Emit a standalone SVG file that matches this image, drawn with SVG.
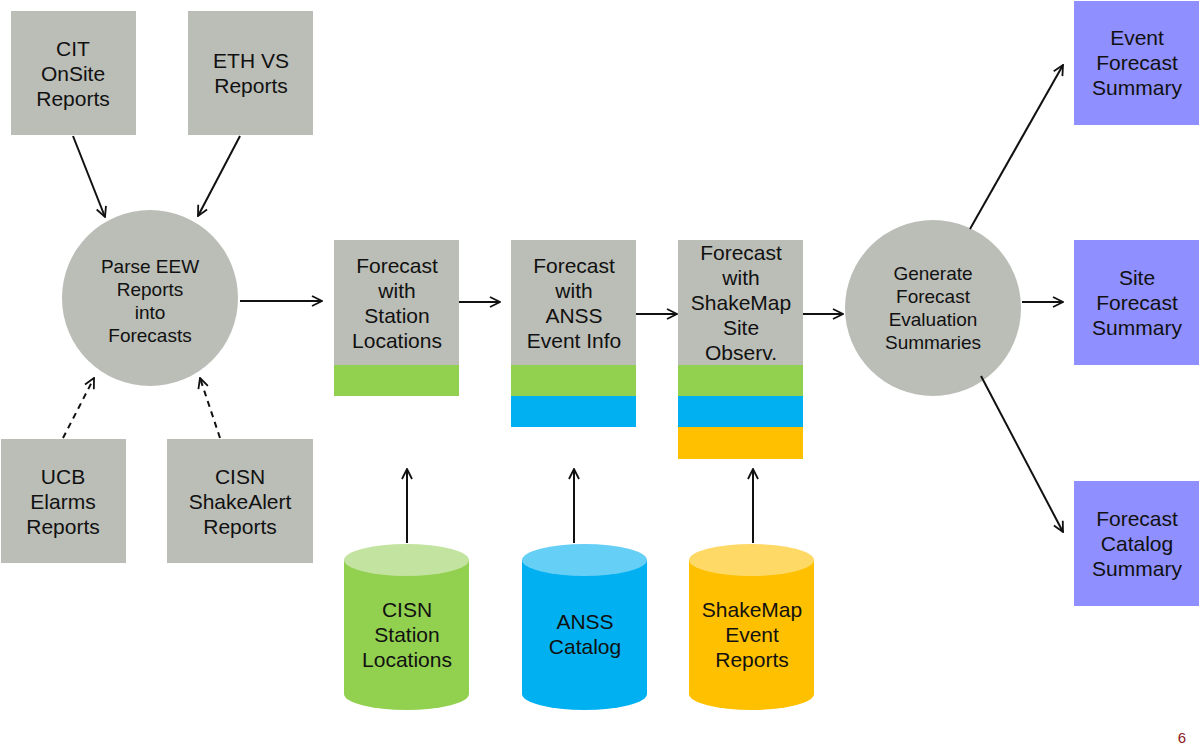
<svg xmlns="http://www.w3.org/2000/svg" width="1200" height="755" viewBox="0 0 1200 755">
<style>
text{font-family:"Liberation Sans",Arial,sans-serif;fill:#111;text-anchor:middle}
.t{font-size:21px}
.c{font-size:19px}
.g{fill:#BBBDB7}
.p{fill:#8F8FFF}
.gr{fill:#92D050}
.bl{fill:#00B0F0}
.or{fill:#FFC000}
.ln{stroke:#111;stroke-width:2;fill:none;marker-end:url(#a)}
.d{stroke-dasharray:6,5}
</style>
<defs>
<marker id="a" viewBox="0 0 12 12" refX="11" refY="6" markerWidth="12" markerHeight="12" markerUnits="userSpaceOnUse" orient="auto">
<path d="M1,1 L11,6 L1,11" fill="none" stroke="#111" stroke-width="1.8"/>
</marker>
</defs>
<rect width="1200" height="755" fill="#fff"/>
<g id="cit"><rect class="g" x="11" y="11" width="125" height="124"/><text class="t" x="73" y="56">CIT</text><text class="t" x="73" y="81">OnSite</text><text class="t" x="73" y="106">Reports</text></g>
<g id="eth"><rect class="g" x="188" y="11" width="125" height="124"/><text class="t" x="251" y="68">ETH VS</text><text class="t" x="251" y="93">Reports</text></g>
<g id="ucb"><rect class="g" x="1" y="439" width="125" height="124"/><text class="t" x="63" y="484">UCB</text><text class="t" x="63" y="509">Elarms</text><text class="t" x="63" y="534">Reports</text></g>
<g id="cisn"><rect class="g" x="167" y="439" width="146" height="124"/><text class="t" x="240" y="484">CISN</text><text class="t" x="240" y="509">ShakeAlert</text><text class="t" x="240" y="534">Reports</text></g>
<g id="parse"><circle class="g" cx="150" cy="298" r="88"/><text class="c" x="150" y="273">Parse EEW</text><text class="c" x="150" y="296">Reports</text><text class="c" x="150" y="319">into</text><text class="c" x="150" y="342">Forecasts</text></g>
<g id="fst"><rect class="g" x="334" y="240" width="125" height="125"/><rect class="gr" x="334" y="365" width="125" height="31"/><text class="t" x="397" y="273">Forecast</text><text class="t" x="397" y="298">with</text><text class="t" x="397" y="323">Station</text><text class="t" x="397" y="348">Locations</text></g>
<g id="fanss"><rect class="g" x="511" y="240" width="125" height="125"/><rect class="gr" x="511" y="365" width="125" height="31"/><rect class="bl" x="511" y="396" width="125" height="31"/><text class="t" x="574" y="273">Forecast</text><text class="t" x="574" y="298">with</text><text class="t" x="574" y="323">ANSS</text><text class="t" x="574" y="348">Event Info</text></g>
<g id="fsm"><rect class="g" x="678" y="240" width="125" height="125"/><rect class="gr" x="678" y="365" width="125" height="31"/><rect class="bl" x="678" y="396" width="125" height="31"/><rect class="or" x="678" y="427" width="125" height="32"/><text class="t" x="741" y="260">Forecast</text><text class="t" x="741" y="285">with</text><text class="t" x="741" y="310">ShakeMap</text><text class="t" x="741" y="335">Site</text><text class="t" x="741" y="360">Observ.</text></g>
<g id="gen"><circle class="g" cx="933" cy="308" r="88"/><text class="c" x="933" y="280">Generate</text><text class="c" x="933" y="303">Forecast</text><text class="c" x="933" y="326">Evaluation</text><text class="c" x="933" y="349">Summaries</text></g>
<g id="event"><rect class="p" x="1074" y="1" width="125" height="124"/><text class="t" x="1137" y="45">Event</text><text class="t" x="1137" y="70">Forecast</text><text class="t" x="1137" y="95">Summary</text></g>
<g id="site"><rect class="p" x="1074" y="240" width="125" height="125"/><text class="t" x="1137" y="285">Site</text><text class="t" x="1137" y="310">Forecast</text><text class="t" x="1137" y="335">Summary</text></g>
<g id="catalog"><rect class="p" x="1074" y="481" width="125" height="125"/><text class="t" x="1137" y="526">Forecast</text><text class="t" x="1137" y="551">Catalog</text><text class="t" x="1137" y="576">Summary</text></g>
<g id="db1"><path fill="#92D050" d="M344,560 V694 A62.5,16 0 0 0 469,694 V560 Z"/><ellipse cx="406.5" cy="560" rx="62.5" ry="16" fill="#C3E3A0"/><text class="t" x="407" y="617">CISN</text><text class="t" x="407" y="642">Station</text><text class="t" x="407" y="667">Locations</text></g>
<g id="db2"><path fill="#00B0F0" d="M522,560 V694 A62.5,16 0 0 0 647,694 V560 Z"/><ellipse cx="584.5" cy="560" rx="62.5" ry="16" fill="#66CFF6"/><text class="t" x="585" y="629">ANSS</text><text class="t" x="585" y="654">Catalog</text></g>
<g id="db3"><path fill="#FFC000" d="M689,560 V694 A62.5,16 0 0 0 814,694 V560 Z"/><ellipse cx="751.5" cy="560" rx="62.5" ry="16" fill="#FFD966"/><text class="t" x="752" y="617">ShakeMap</text><text class="t" x="752" y="642">Event</text><text class="t" x="752" y="667">Reports</text></g>
<g id="connectors">
<line class="ln" x1="73" y1="136" x2="105" y2="217"/>
<line class="ln" x1="240" y1="136" x2="198" y2="216"/>
<line class="ln d" x1="63" y1="438" x2="94" y2="378"/>
<line class="ln d" x1="220" y1="438" x2="200" y2="378"/>
<line class="ln" x1="240" y1="301" x2="322" y2="301"/>
<line class="ln" x1="459" y1="302" x2="500" y2="302"/>
<line class="ln" x1="636" y1="314" x2="677" y2="314"/>
<line class="ln" x1="803" y1="314" x2="843" y2="314"/>
<line class="ln" x1="970" y1="229" x2="1063" y2="65"/>
<line class="ln" x1="1022" y1="302" x2="1063" y2="302"/>
<line class="ln" x1="981" y1="376" x2="1063" y2="532"/>
<line class="ln" x1="407" y1="543" x2="407" y2="469"/>
<line class="ln" x1="574" y1="543" x2="574" y2="469"/>
<line class="ln" x1="753" y1="543" x2="753" y2="469"/>
</g>
<text x="1182" y="743" style="font-size:15px;fill:#8B1A1A">6</text>
</svg>
